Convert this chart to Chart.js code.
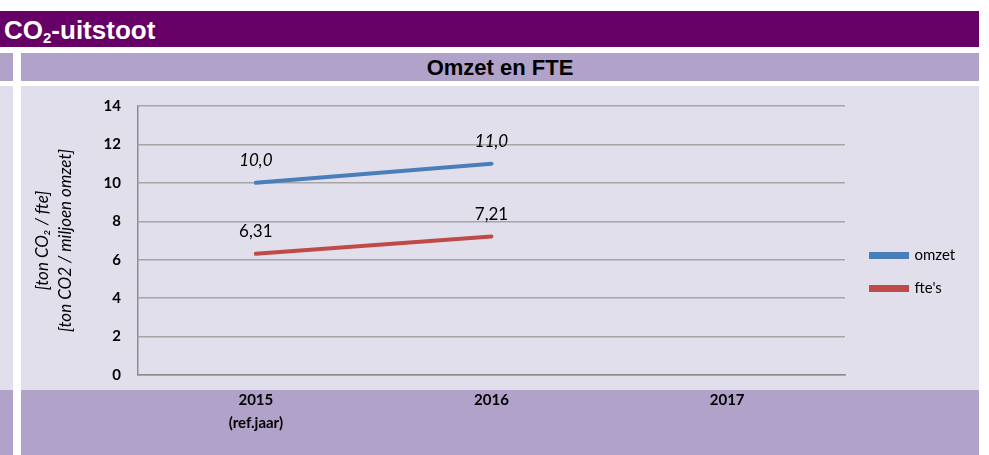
<!DOCTYPE html>
<html>
<head>
<meta charset="utf-8">
<script src="https://cdn.jsdelivr.net/npm/chart.js@4/dist/chart.umd.min.js"></script>
<style>
  body { margin: 0; background: #ffffff; width: 989px; height: 455px; position: relative; overflow: hidden; }
  .blk { position: absolute; }
  #kop { left: 0; top: 11px; width: 979px; height: 36px; background: #660066; color: #ffffff;
         font: bold 26px "Liberation Sans", Arial, sans-serif; line-height: 38px; padding-left: 4px; box-sizing: border-box; }
  #kop sub { font-size: 15px; vertical-align: -4px; line-height: 0; }
  .band { background: #b0a2c8; }
  .licht { background: #e2dfed; }
  #titel { font: bold 22px "Liberation Sans", Arial, sans-serif; color: #000; text-align: center; line-height: 29px; }
  #grafiek { position: absolute; left: 21px; top: 86px; }
</style>
</head>
<body>
<div id="kop" class="blk">CO<sub>2</sub>-uitstoot</div>
<div class="blk band" style="left:0;top:53px;width:13px;height:28px"></div>
<div id="titel" class="blk band" style="left:21px;top:53px;width:958px;height:28px">Omzet en FTE</div>
<div class="blk licht" style="left:0;top:86px;width:13px;height:304px"></div>
<div class="blk licht" style="left:21px;top:86px;width:958px;height:304px"></div>
<div class="blk band" style="left:0;top:390px;width:13px;height:65px"></div>
<div class="blk band" style="left:21px;top:390px;width:958px;height:65px"></div>
<canvas id="grafiek" width="958" height="369"></canvas>

<script>
// categorieën (jaren) en waarden
const jaren = [['2015', '(ref.jaar)'], '2016', '2017'];
const omzet = [10.0, 11.0, null];     // ton CO2 / miljoen omzet
const ftes = [6.31, 7.21, null];      // ton CO2 / fte
const yTicks = [0, 2, 4, 6, 8, 10, 12, 14];
const yTitel = ['[ton CO\u2082 / fte]', '[ton CO2 / miljoen omzet]'];

const lettertype = 'Lato, "Open Sans", sans-serif';

// waarden boven de lijnen zetten (komma als decimaalteken)
const waardeLabels = {
  id: 'waardeLabels',
  afterDatasetsDraw(chart) {
    const ctx = chart.ctx;
    chart.data.datasets.forEach((ds, i) => {
      const meta = chart.getDatasetMeta(i);
      ctx.save();
      ctx.font = (ds.labelItalic ? 'italic ' : '') + '17px ' + lettertype;
      ctx.fillStyle = '#000000';
      ctx.textAlign = 'center';
      ctx.textBaseline = 'middle';
      meta.data.forEach((pt, j) => {
        const v = ds.data[j];
        if (v === null) return;
        ctx.fillText(v.toFixed(ds.decimalen).replace('.', ','), pt.x, pt.y - 22);
      });
      ctx.restore();
    });
  }
};

// legenda iets hoger en iets meer naar rechts, zoals in het origineel
const legendaSchuif = {
  id: 'legendaSchuif',
  afterLayout(chart) {
    if (!chart.legend) return;
    chart.legend.bottom -= 17;
    chart.legend.left += 8;
  }
};

const grafiek = new Chart(document.getElementById('grafiek').getContext('2d'), {
  type: 'line',
  data: {
    labels: jaren,
    datasets: [
      {
        label: 'omzet',
        data: omzet,
        borderColor: '#4a7ebb',
        backgroundColor: '#4a7ebb',
        borderWidth: 4,
        borderCapStyle: 'round',
        pointRadius: 0,
        decimalen: 1,
        labelItalic: true,
      },
      {
        label: "fte's",
        data: ftes,
        borderColor: '#be4b48',
        backgroundColor: '#be4b48',
        borderWidth: 4,
        borderCapStyle: 'round',
        pointRadius: 0,
        decimalen: 2,
        labelItalic: false,
      },
    ],
  },
  options: {
    responsive: false,
    animation: false,
    devicePixelRatio: 1,
    layout: { padding: { top: 20, right: 40, bottom: 0, left: 0 } },
    plugins: {
      legend: {
        position: 'right',
        labels: {
          boxWidth: 36,
          boxHeight: 3,
          padding: 18,
          color: '#000000',
          font: { size: 15, family: lettertype },
        },
      },
      tooltip: { enabled: false },
    },
    scales: {
      x: {
        offset: true,
        grid: { display: false },
        border: { display: true, color: '#8c8c8c', width: 1.5 },
        ticks: {
          color: '#000000',
          padding: 6,
          maxRotation: 0,
          font: { size: 15, weight: 'bold', family: lettertype, lineHeight: 1.5 },
        },
        afterFit(s) { s.height = 80; },
      },
      y: {
        min: 0,
        max: 14,
        afterBuildTicks(s) { s.ticks = yTicks.map(v => ({ value: v })); },
        grid: { color: '#a6a6a6', lineWidth: 1.5, drawTicks: false },
        border: { display: true, color: '#8c8c8c', width: 1.5 },
        ticks: {
          color: '#000000',
          padding: 17,
          font: { size: 15, weight: 'bold', family: lettertype },
        },
        title: {
          display: true,
          text: yTitel,
          color: '#000000',
          padding: { top: 10 },
          font: { size: 17, style: 'italic', family: lettertype, lineHeight: 1.35 },
        },
        afterFit(s) {
          s.width = 117;
          s.paddingTop = 0;
          s.paddingBottom = 0;
        },
      },
    },
  },
  plugins: [waardeLabels, legendaSchuif],
});

// rechterrand van het plotvlak op 824 px zetten
for (let k = 0; k < 3; k++) {
  const verschil = grafiek.chartArea.right - 824;
  if (Math.abs(verschil) < 0.5) break;
  grafiek.options.layout.padding.right += verschil;
  grafiek.update();
}
</script>
</body>
</html>
